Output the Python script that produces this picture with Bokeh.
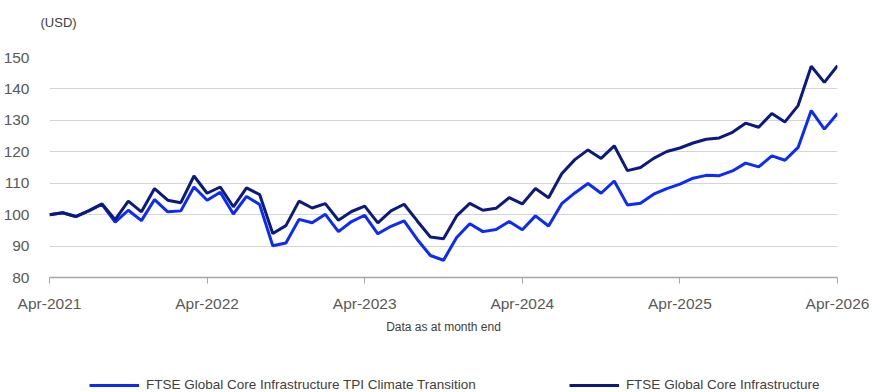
from bokeh.plotting import figure
from bokeh.layouts import column
from bokeh.models import FixedTicker, Legend, LegendItem, Title
from bokeh.embed import file_html
from bokeh.resources import INLINE

# month index from Apr-2021 (0) to Apr-2026 (60)
months = list(range(61))

core = [100.0, 100.6, 99.4, 101.3, 103.4, 98.4, 104.3, 100.9, 108.3, 104.6,
        103.8, 112.3, 106.8, 108.8, 102.5, 108.5, 106.4, 94.0, 96.5, 104.3,
        102.1, 103.5, 98.2, 101.0, 102.7, 97.4, 101.2, 103.3, 98.0, 92.9,
        92.3, 99.6, 103.6, 101.4, 102.0, 105.4, 103.4, 108.3, 105.4, 113.0,
        117.5, 120.6, 117.9, 121.9, 114.0, 115.0, 117.9, 120.1, 121.2, 122.8,
        124.0, 124.4, 126.2, 129.1, 127.8, 132.2, 129.5, 134.7, 147.2, 142.1,
        147.4]

tpi = [100.0, 100.6, 99.4, 101.2, 103.3, 97.6, 101.4, 98.1, 104.8, 100.9,
       101.2, 108.8, 104.6, 107.1, 100.2, 105.8, 103.2, 90.1, 91.0, 98.5,
       97.4, 100.1, 94.6, 97.8, 99.8, 93.9, 96.3, 98.0, 92.1, 87.0,
       85.5, 92.7, 97.1, 94.6, 95.3, 97.8, 95.2, 99.6, 96.4, 103.5,
       106.9, 109.9, 106.8, 110.7, 103.1, 103.6, 106.5, 108.3, 109.7, 111.6,
       112.5, 112.4, 113.9, 116.4, 115.2, 118.7, 117.3, 121.4, 133.1, 127.2,
       132.2]

tick_months = [0, 12, 24, 36, 48, 60]
tick_labels = ["Apr-2021", "Apr-2022", "Apr-2023", "Apr-2024", "Apr-2025", "Apr-2026"]
y_ticks = [80, 90, 100, 110, 120, 130, 140, 150]

series_names = ["FTSE Global Core Infrastructure TPI Climate Transition",
                "FTSE Global Core Infrastructure"]

FONT = "Liberation Sans"
BRIGHT = "#0A2AFF"
NAVY = "#0B1A80"
TOPLINE = "#1E40FF"
W = 873


def strip(height, fill="white"):
    f = figure(width=W, height=height, x_range=(0, W), y_range=(0, height),
               x_axis_location=None, y_axis_location=None, min_border=0,
               toolbar_location=None, output_backend="svg")
    f.grid.visible = False
    f.outline_line_color = None
    f.background_fill_color = fill
    f.border_fill_color = fill
    f.title.text = ""
    f.title.standoff = 0
    return f


# ---- thin rule across the top of the page
gap = strip(3)
rule = strip(2, TOPLINE)

# ---- unit label strip
unit = strip(40)
unit.add_layout(Title(text="(USD)", align="left", offset=-9, standoff=15,
                      text_font=FONT, text_font_size="13px",
                      text_font_style="normal", text_color="#404040"), "above")

# ---- main chart
p = figure(width=W, height=300, output_backend="svg", toolbar_location=None,
           x_range=(0, 60), y_range=(80, 150),
           min_border_left=49, min_border_right=36,
           min_border_top=12, min_border_bottom=68)
p.outline_line_color = None
p.background_fill_color = "white"
p.border_fill_color = "white"
p.title.text = ""
p.title.standoff = 0

p.xgrid.visible = False
p.ygrid.grid_line_color = "#d4d4d4"
p.ygrid.grid_line_width = 1

p.yaxis.ticker = FixedTicker(ticks=y_ticks)
p.yaxis.axis_line_color = None
p.yaxis.major_tick_line_color = None
p.yaxis.minor_tick_line_color = None
p.yaxis.major_label_standoff = 14
p.yaxis.major_label_text_font = FONT
p.yaxis.major_label_text_font_size = "15.5px"
p.yaxis.major_label_text_color = "#595959"

xax = p.below[0]
xax.ticker = FixedTicker(ticks=tick_months)
xax.major_label_overrides = {m: l for m, l in zip(tick_months, tick_labels)}
xax.axis_line_color = "#a6a6a6"
xax.axis_line_width = 1.5
xax.major_tick_line_color = "#a6a6a6"
xax.major_tick_in = 0
xax.major_tick_out = 6
xax.minor_tick_line_color = None
xax.major_label_standoff = 11
xax.major_label_text_font = FONT
xax.major_label_text_font_size = "15.5px"
xax.major_label_text_color = "#595959"
xax.axis_label = "Data as at month end"
xax.axis_label_text_font = FONT
xax.axis_label_text_font_size = "12px"
xax.axis_label_text_font_style = "normal"
xax.axis_label_text_color = "#404040"
xax.axis_label_standoff = 5

p.line(months, tpi, line_color=BRIGHT, line_width=3)
p.line(months, core, line_color=NAVY, line_width=3)

# ---- legend strip (its frame is aligned with the chart frame by the column)
bot = strip(47)
# key renderers: same series, drawn far outside this strip's visible range
k_tpi = bot.line(months, tpi, line_color=BRIGHT, line_width=3)
k_core = bot.line(months, core, line_color=NAVY, line_width=3)
legend = Legend(items=[LegendItem(label=series_names[0], renderers=[k_tpi]),
                       LegendItem(label=series_names[1], renderers=[k_core])],
                orientation="horizontal", location=(40, 0),
                glyph_width=50, glyph_height=14, label_height=14,
                label_standoff=7, spacing=93,
                padding=0, margin=0, border_line_color=None,
                background_fill_alpha=0,
                label_text_font=FONT, label_text_font_size="13.5px",
                label_text_color="#404040")
bot.add_layout(legend, "center")

layout = column(gap, rule, unit, p, bot, spacing=0)
open("out.html", "w").write(file_html(layout, INLINE))
